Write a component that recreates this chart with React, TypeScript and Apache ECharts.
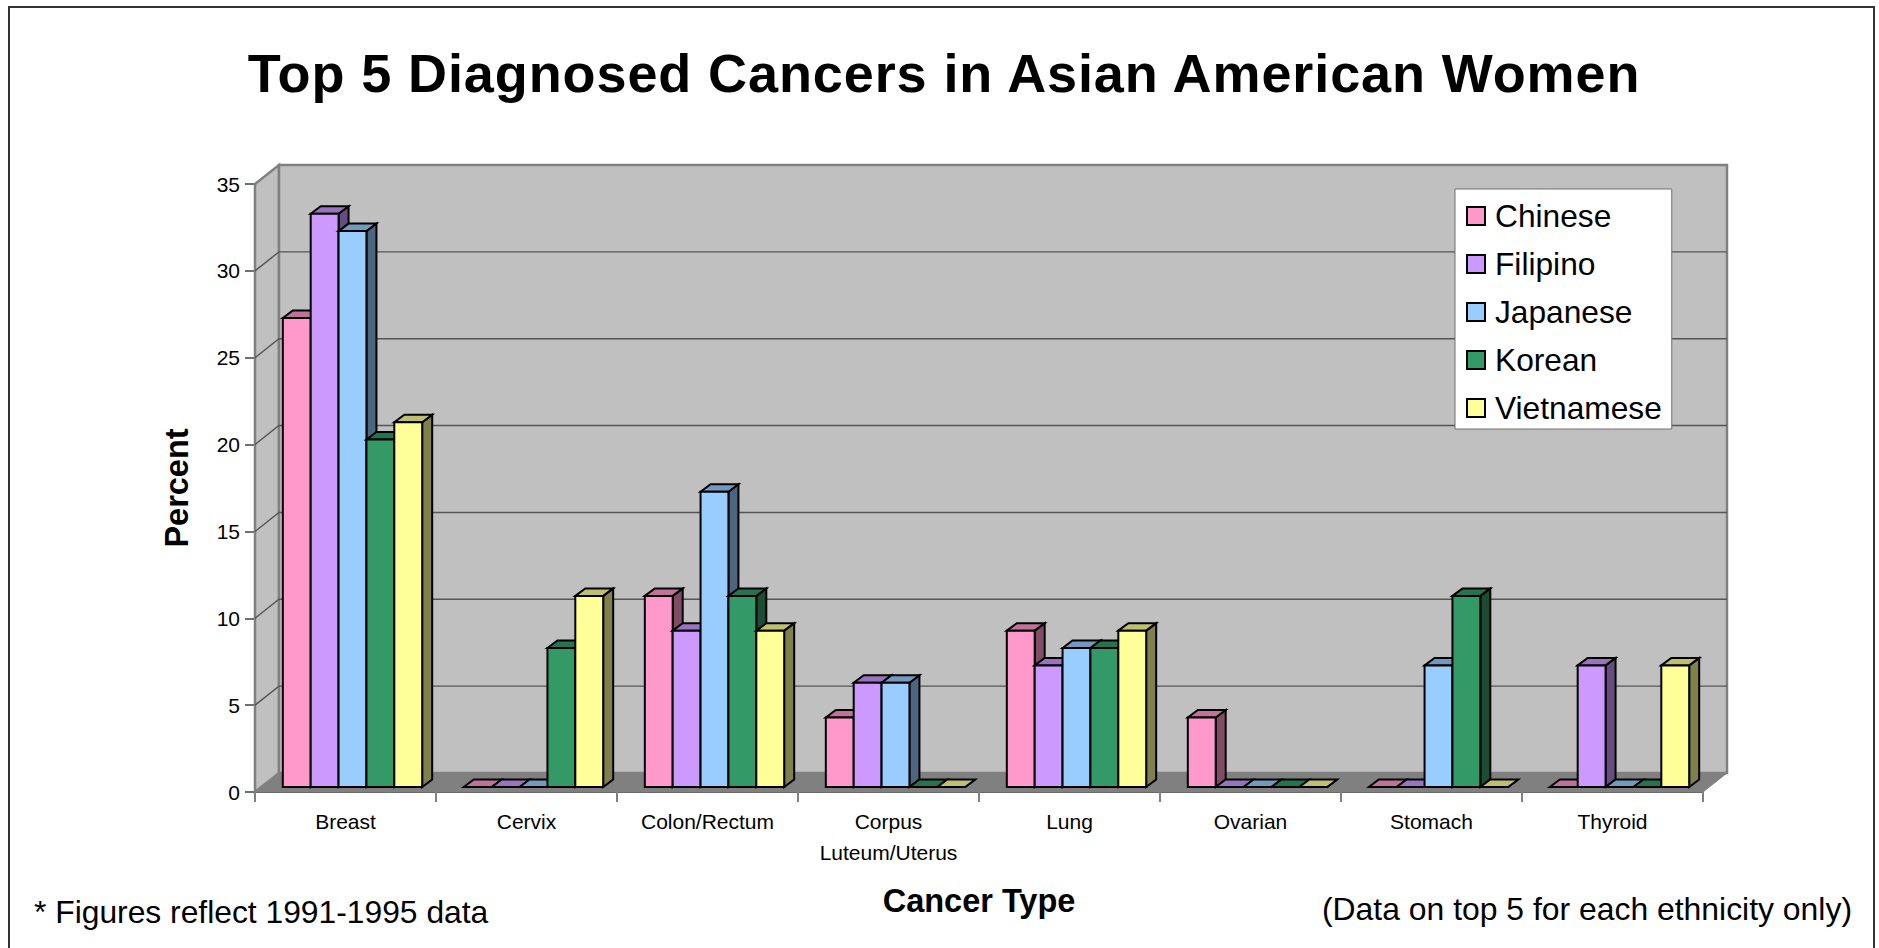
import React, { useEffect, useRef } from "react";
import * as echarts from "echarts";

const FONT = "'Liberation Sans', Arial, sans-serif";

const categories = ["Breast", "Cervix", "Colon/Rectum", "Corpus\nLuteum/Uterus", "Lung", "Ovarian", "Stomach", "Thyroid"];
const chinese = [27, 0, 11, 4, 9, 4, 0, 0];
const filipino = [33, 0, 9, 6, 7, 0, 0, 7];
const japanese = [32, 0, 17, 6, 8, 0, 7, 0];
const korean = [20, 8, 11, 0, 8, 0, 11, 0];
const vietnamese = [21, 11, 9, 0, 9, 0, 0, 7];
const percentTicks = [0, 5, 10, 15, 20, 25, 30, 35];

const seriesNames = ["Chinese", "Filipino", "Japanese", "Korean", "Vietnamese"];
const seriesValues = [chinese, filipino, japanese, korean, vietnamese];
const faceColors = ["#FF99CC", "#CC99FF", "#99CCFF", "#339966", "#FFFF99"];
const topColors = ["#BF7399", "#9973BF", "#7399BF", "#267350", "#BFBF73"];
const sideColors = ["#804D66", "#664D80", "#4D6680", "#1A4D33", "#80804D"];

// Oblique projection used for the fake 3D box and the bars inside it.
const WALL_DX = 24;
const WALL_DY = -19;
const BAR_INSET_DX = 7;
const BAR_INSET_DY = -5;
const BAR_DX = 10;
const BAR_DY = -7.5;
const GROUP_SHARE = 0.77;

function renderWalls(_params: any, api: any) {
  const band = api.size([1, 0])[0];
  const [first, y0] = api.coord([0, 0]);
  const [last] = api.coord([categories.length - 1, 0]);
  const x0 = first - band / 2;
  const x1 = last + band / 2;
  const [, yTop] = api.coord([0, 35]);
  const back = (x: number, y: number) => [x + WALL_DX, y + WALL_DY];
  const wallEdge = { stroke: "#808080", lineWidth: 2.5 };
  const children: any[] = [
    {
      type: "polygon",
      shape: { points: [[x0, yTop], back(x0, yTop), back(x0, y0), [x0, y0]] },
      style: { fill: "#C0C0C0", ...wallEdge },
    },
    {
      type: "polygon",
      shape: { points: [back(x0, yTop), back(x1, yTop), back(x1, y0), back(x0, y0)] },
      style: { fill: "#C0C0C0", ...wallEdge },
    },
  ];
  percentTicks.slice(1, -1).forEach((tick) => {
    const [, y] = api.coord([0, tick]);
    children.push({
      type: "polyline",
      shape: { points: [[x0, y], back(x0, y), back(x1, y)] },
      style: { fill: "none", stroke: "#555555", lineWidth: 1.4 },
    });
  });
  children.push({
    type: "polygon",
    shape: { points: [[x0, y0], back(x0, y0), back(x1, y0), [x1, y0]] },
    style: { fill: "#808080", stroke: "#808080", lineWidth: 1 },
  });
  return { type: "group", children };
}

function makeBarRenderer(seriesIndex: number) {
  return (_params: any, api: any) => {
    const [cx, yTop] = api.coord([api.value(0), api.value(1)]);
    const [, yBase] = api.coord([api.value(0), 0]);
    const band = api.size([1, 0])[0];
    const barWidth = (band * GROUP_SHARE) / seriesNames.length;
    const left = cx - (band * GROUP_SHARE) / 2 + BAR_INSET_DX + seriesIndex * barWidth;
    const right = left + barWidth;
    const top = yTop + BAR_INSET_DY;
    const base = yBase + BAR_INSET_DY;
    const outline = { stroke: "#000000", lineWidth: 2, lineJoin: "miter" };
    return {
      type: "group",
      children: [
        {
          type: "polygon",
          shape: { points: [[right, top], [right + BAR_DX, top + BAR_DY], [right + BAR_DX, base + BAR_DY], [right, base]] },
          style: { fill: sideColors[seriesIndex], ...outline },
        },
        {
          type: "polygon",
          shape: { points: [[left, top], [left + BAR_DX, top + BAR_DY], [right + BAR_DX, top + BAR_DY], [right, top]] },
          style: { fill: topColors[seriesIndex], ...outline },
        },
        {
          type: "polygon",
          shape: { points: [[left, top], [right, top], [right, base], [left, base]] },
          style: { fill: faceColors[seriesIndex], ...outline },
        },
      ],
    };
  };
}

// The headline is set slightly looser than the font's natural spacing.
const headlineCss = `svg text[style*="54px"]{letter-spacing:.9px}`;

export default function App() {
  const ref = useRef<HTMLDivElement>(null);

  useEffect(() => {
    document.body.style.margin = "0";
    document.body.style.overflow = "hidden";
    const chart = echarts.init(ref.current!, undefined, { renderer: "svg" });
    chart.setOption({
      animation: false,
      backgroundColor: "#FFFFFF",
      title: {
        text: "Top 5 Diagnosed Cancers in Asian American Women",
        left: 939,
        top: 41,
        textAlign: "center",
        textStyle: { fontFamily: FONT, fontWeight: "bold", fontSize: 54, color: "#000000" },
      },
      grid: { left: 255, top: 184, width: 1448, height: 608 },
      legend: {
        orient: "vertical",
        left: 1455,
        top: 189,
        data: seriesNames,
        icon: "rect",
        itemWidth: 18,
        itemHeight: 18,
        itemGap: 16,
        padding: [11, 10, 5, 11],
        backgroundColor: "#FFFFFF",
        borderColor: "#707070",
        borderWidth: 1,
        itemStyle: { borderColor: "#000000", borderWidth: 2 },
        textStyle: { fontFamily: FONT, fontSize: 31.7, color: "#000000", padding: [0, 0, 2, 5] },
        selectedMode: false,
      },
      xAxis: {
        type: "category",
        data: categories,
        axisLine: { show: true, onZero: false, lineStyle: { color: "#555555", width: 2 } },
        axisTick: { show: true, length: 10, lineStyle: { color: "#808080", width: 2 } },
        axisLabel: { fontFamily: FONT, fontSize: 21, color: "#000000", margin: 14, lineHeight: 31 },
        name: "Cancer Type",
        nameLocation: "middle",
        nameGap: 92,
        nameTextStyle: { fontFamily: FONT, fontWeight: "bold", fontSize: 32.5, color: "#000000" },
      },
      yAxis: {
        type: "value",
        min: 0,
        max: 35,
        interval: 5,
        splitLine: { show: false },
        axisLine: { show: true, lineStyle: { color: "#555555", width: 2 } },
        axisTick: { show: true, length: 10, lineStyle: { color: "#707070", width: 2 } },
        axisLabel: { fontFamily: FONT, fontSize: 21, color: "#000000", margin: 15, padding: [0, 0, 2, 0] },
        name: "Percent",
        nameLocation: "middle",
        nameGap: 62,
        nameTextStyle: { fontFamily: FONT, fontWeight: "bold", fontSize: 32.5, color: "#000000" },
      },
      graphic: [
        {
          type: "polyline",
          silent: true,
          shape: { points: [[9, 948], [9, 7], [1874, 7], [1874, 948]] },
          style: { fill: "none", stroke: "#333333", lineWidth: 2 },
        },
        {
          type: "text",
          x: 34,
          y: 912,
          style: { text: "* Figures reflect 1991-1995 data", font: `31.8px ${FONT}`, fill: "#000000", textVerticalAlign: "middle" },
        },
        {
          type: "text",
          x: 1852,
          y: 909,
          style: { text: "(Data on top 5 for each ethnicity only)", font: `31.9px ${FONT}`, fill: "#000000", textAlign: "right", textVerticalAlign: "middle" },
        },
      ],
      series: [
        { type: "custom", name: "walls", z: 1, silent: true, renderItem: renderWalls, data: [[0, 0]], encode: { x: 0, y: 1 } },
        ...seriesNames.map((name, s) => ({
          type: "custom",
          name,
          z: 2 + s,
          silent: true,
          itemStyle: { color: faceColors[s] },
          renderItem: makeBarRenderer(s),
          data: seriesValues[s].map((v, i) => [i, v]),
          encode: { x: 0, y: 1 },
        })),
      ],
    });
    return () => chart.dispose();
  }, []);

  return (
    <>
      <style>{headlineCss}</style>
      <div ref={ref} style={{ width: 1879, height: 948 }} />
    </>
  );
}
